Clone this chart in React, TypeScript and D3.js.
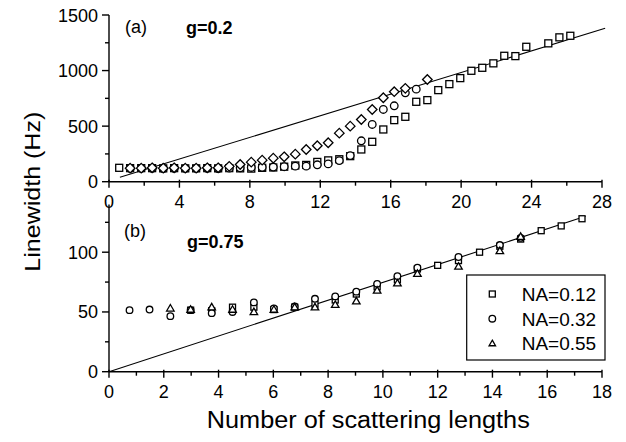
import * as d3 from 'd3';

// ─── Panel (a): g = 0.2 ───────────────────────────────────
const sqAx = [0.58, 1.2, 1.83, 2.45, 3.08, 3.7, 4.33, 4.95, 5.58, 6.2, 6.83, 7.45, 8.08, 8.7, 9.33, 9.95, 10.58, 11.2, 11.83, 12.45, 13.08, 13.7, 14.33, 14.95, 15.58, 16.2, 16.83, 17.45, 18.08, 18.7, 19.33, 19.95, 20.58, 21.2, 21.83, 22.45, 23.08, 23.7, 24.95, 25.58, 26.2];
const sqAy = [125, 122, 122, 122, 120, 122, 120, 120, 122, 120, 122, 120, 118, 125, 128, 135, 146, 151, 178, 192, 202, 230, 290, 359, 470, 554, 584, 719, 734, 824, 878, 932, 998, 1025, 1065, 1133, 1130, 1214, 1245, 1299, 1313];

const ciAx = [1.2, 1.83, 2.45, 3.08, 3.7, 4.33, 4.95, 5.58, 6.2, 6.83, 7.45, 8.08, 8.7, 9.33, 9.95, 10.58, 11.2, 11.83, 12.45, 13.08, 13.7, 14.33, 14.95, 15.58, 16.2, 16.83, 17.45];
const ciAy = [120, 120, 120, 118, 120, 120, 120, 120, 118, 122, 125, 128, 130, 132, 135, 140, 140, 152, 160, 190, 235, 368, 515, 650, 683, 800, 833];

const diAx = [1.2, 1.83, 2.45, 3.08, 3.7, 4.33, 4.95, 5.58, 6.2, 6.83, 7.45, 8.08, 8.7, 9.33, 9.95, 10.58, 11.2, 11.83, 12.45, 13.08, 13.7, 14.33, 14.95, 15.58, 16.2, 16.83, 18.08];
const diAy = [122, 122, 125, 122, 125, 122, 122, 125, 125, 138, 155, 176, 194, 212, 224, 248, 290, 323, 350, 437, 500, 560, 650, 755, 810, 840, 920];

const fitAx = [0.62, 28.18];
const fitAy = [40, 1381];

// ─── Panel (b): g = 0.75 ──────────────────────────────────
const sqBx = [2.98, 3.75, 4.51, 5.29, 6.02, 6.78, 7.52, 8.26, 9.03, 9.79, 10.53, 11.26, 12.0, 12.76, 13.53, 14.27, 15.03, 15.78, 16.51, 17.27];
const sqBy = [51.5, 51, 54, 54, 52, 54, 56.5, 60, 65, 71, 77, 86, 89, 93, 100, 105, 111, 118, 122, 128];

const ciBx = [0.75, 1.48, 2.24, 2.98, 3.75, 4.51, 5.29, 6.02, 6.78, 7.52, 8.26, 9.03, 9.79, 10.53, 11.26, 12.76, 14.27, 15.03];
const ciBy = [51.5, 52, 46.5, 51.5, 49, 50, 58, 53, 54.5, 61, 63, 67, 73.5, 80, 87, 96, 106, 112];

const trBx = [2.24, 2.98, 3.75, 4.51, 5.29, 6.02, 6.78, 7.52, 8.26, 9.03, 9.79, 10.53, 11.26, 12.76, 14.27, 15.03];
const trBy = [53, 52, 54, 52, 50, 52, 54, 54, 56, 59, 68, 74, 82, 88, 101, 113];

const fitBx = [0, 17.4];
const fitBy = [0, 130];

// ─── Ticks / labels ───────────────────────────────────────
const xTicksA = [0, 4, 8, 12, 16, 20, 24, 28];
const xMinorA = [2, 6, 10, 14, 18, 22, 26];
const yTicksA = [0, 500, 1000, 1500];
const yMinorA = [250, 750, 1250];
const xTicksB = [0, 2, 4, 6, 8, 10, 12, 14, 16, 18];
const xMinorB = [1, 3, 5, 7, 9, 11, 13, 15, 17];
const yTicksB = [0, 50, 100];
const yMinorB = [25, 75, 125];
const legendLabels = ['NA=0.12', 'NA=0.32', 'NA=0.55'];

const FONT = '"Liberation Sans", Arial, Helvetica, sans-serif';

const xA = d3.scaleLinear().domain([0, 28]).range([109, 602]);
const yA = d3.scaleLinear().domain([0, 1500]).range([181.7, 15]);
const xB = d3.scaleLinear().domain([0, 18]).range([109, 602]);
const yB = d3.scaleLinear().domain([0, 140]).range([371.7, 204.4]);

type Kind = 'square' | 'circle' | 'diamond' | 'triangle';

function Marker({ kind, x, y, s }: { kind: Kind; x: number; y: number; s: number }) {
  const common = { fill: 'white', stroke: '#000', strokeWidth: 1.3 };
  if (kind === 'square') {
    return <rect x={x - s / 2} y={y - s / 2} width={s} height={s} {...common} />;
  }
  if (kind === 'circle') {
    return <circle cx={x} cy={y} r={s / 2 + 0.3} {...common} />;
  }
  if (kind === 'diamond') {
    const h = s * 0.68;
    return <path d={`M${x},${y - h}L${x + h},${y}L${x},${y + h}L${x - h},${y}Z`} {...common} />;
  }
  const p = d3.symbol().type(d3.symbolTriangle).size(s * s * 0.5)();
  return <path d={p ?? ''} transform={`translate(${x},${y + 0.5})`} {...common} />;
}

function Series({ xs, ys, kind, sx, sy, s }: {
  xs: number[]; ys: number[]; kind: Kind;
  sx: d3.ScaleLinear<number, number>; sy: d3.ScaleLinear<number, number>; s: number;
}) {
  return (
    <g>
      {xs.map((v, i) => (
        <Marker key={i} kind={kind} x={sx(v)} y={sy(ys[i])} s={s} />
      ))}
    </g>
  );
}

function Axes({ sx, sy, xt, xm, yt, ym }: {
  sx: d3.ScaleLinear<number, number>; sy: d3.ScaleLinear<number, number>;
  xt: number[]; xm: number[]; yt: number[]; ym: number[];
}) {
  const [x0, x1] = sx.range();
  const [y0, y1] = sy.range();
  return (
    <g stroke="#000" strokeWidth={1.4}>
      <line x1={x0} x2={x1} y1={y0} y2={y0} />
      <line x1={x0} x2={x0} y1={y0} y2={y1} />
      {xt.map((t) => (
        <g key={'xt' + t}>
          <line x1={sx(t)} x2={sx(t)} y1={y0 - 2} y2={y0 + 6} />
          <text x={sx(t)} y={y0 + 26} textAnchor="middle" stroke="none" fill="#000"
            fontSize={18} fontFamily={FONT}>{t}</text>
        </g>
      ))}
      {xm.map((t) => (
        <line key={'xm' + t} x1={sx(t)} x2={sx(t)} y1={y0} y2={y0 + 4} />
      ))}
      {yt.map((t) => (
        <g key={'yt' + t}>
          <line x1={x0 - 7} x2={x0} y1={sy(t)} y2={sy(t)} />
          <text x={x0 - 11} y={sy(t) + 6.5} textAnchor="end" stroke="none" fill="#000"
            fontSize={18} fontFamily={FONT}>{t}</text>
        </g>
      ))}
      {ym.map((t) => (
        <line key={'ym' + t} x1={x0 - 4} x2={x0} y1={sy(t)} y2={sy(t)} />
      ))}
    </g>
  );
}

export default function App() {
  const lineA = d3.line<number>().x((d) => xA(d)).y((_, i) => yA(fitAy[i]));
  const lineB = d3.line<number>().x((d) => xB(d)).y((_, i) => yB(fitBy[i]));
  const legendKinds: Kind[] = ['square', 'circle', 'triangle'];

  return (
    <svg width={626} height={442} style={{ position: 'absolute', left: 0, top: 0, background: '#fff' }}>
      <rect width={626} height={442} fill="#fff" />

      {/* panel (a) */}
      <path d={lineA(fitAx) ?? ''} fill="none" stroke="#000" strokeWidth={1.1} />
      <Series xs={sqAx} ys={sqAy} kind="square" sx={xA} sy={yA} s={7} />
      <Series xs={ciAx} ys={ciAy} kind="circle" sx={xA} sy={yA} s={7} />
      <Series xs={diAx} ys={diAy} kind="diamond" sx={xA} sy={yA} s={7} />
      <Axes sx={xA} sy={yA} xt={xTicksA} xm={xMinorA} yt={yTicksA} ym={yMinorA} />
      <text x={125} y={33} fontSize={18} fontFamily={FONT}>(a)</text>
      <text x={186} y={34} fontSize={18} fontWeight="bold" fontFamily={FONT}>g=0.2</text>

      {/* panel (b) */}
      <path d={lineB(fitBx) ?? ''} fill="none" stroke="#000" strokeWidth={1.1} />
      <Series xs={sqBx} ys={sqBy} kind="square" sx={xB} sy={yB} s={6} />
      <Series xs={ciBx} ys={ciBy} kind="circle" sx={xB} sy={yB} s={6} />
      <Series xs={trBx} ys={trBy} kind="triangle" sx={xB} sy={yB} s={7} />
      <Axes sx={xB} sy={yB} xt={xTicksB} xm={xMinorB} yt={yTicksB} ym={yMinorB} />
      <text x={124} y={237} fontSize={18} fontFamily={FONT}>(b)</text>
      <text x={187} y={248} fontSize={18} fontWeight="bold" fontFamily={FONT}>g=0.75</text>

      {/* legend */}
      <rect x={466.7} y={275} width={138.3} height={85} fill="white" stroke="#000" strokeWidth={1.2} />
      {legendLabels.map((l, i) => (
        <g key={l}>
          <Marker kind={legendKinds[i]} x={492.3} y={294 + i * 24.7} s={6} />
          <text x={521.7} y={294 + i * 24.7 + 7} fontSize={19} fontFamily={FONT}>{l}</text>
        </g>
      ))}

      {/* axis titles */}
      <text transform="translate(40,191.7) rotate(-90)" textAnchor="middle" fontSize={22}
        fontFamily={FONT} textLength={160} lengthAdjust="spacingAndGlyphs">Linewidth (Hz)</text>
      <text x={368.3} y={428} textAnchor="middle" fontSize={23} fontFamily={FONT}
        textLength={323} lengthAdjust="spacingAndGlyphs">Number of scattering lengths</text>
    </svg>
  );
}
